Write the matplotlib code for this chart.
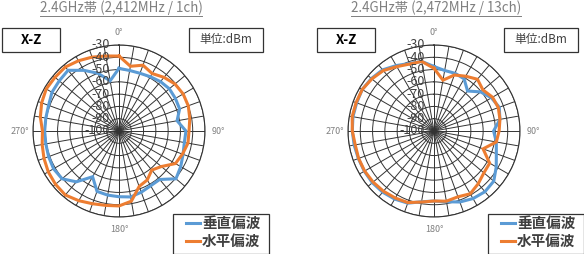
import numpy as np
import matplotlib.pyplot as plt
from matplotlib.patches import Rectangle
from matplotlib.lines import Line2D
from matplotlib.transforms import offset_copy

plt.rcParams['font.family'] = ['Noto Sans CJK JP', 'DejaVu Sans']

W, H = 584, 254

# angle of each measurement (deg, clockwise from top)
angles = [0, 10, 20, 30, 40, 50, 60, 70, 80, 90, 100, 110,
          120, 130, 140, 150, 160, 170, 180, 190, 200, 210, 220, 230,
          240, 250, 260, 270, 280, 290, 300, 310, 320, 330, 340, 350]

# 1ch (2,412MHz)
ch1_v = [-49, -50, -50, -49, -47.5, -46.5, -47, -47.5, -52, -45.5,
         -46, -44.5, -42, -39.5, -48.5, -48.5, -47, -45.5, -46.5, -47,
         -47.7, -57, -46, -39.5, -38.5, -39, -39.5, -39.5, -39.5, -39,
         -37, -36.5, -35.5, -43, -50, -58.5]
ch1_h = [-39, -46.5, -43, -46, -43, -40.5, -39.7, -40, -41.5, -43,
         -43, -45, -47, -55, -58.5, -54, -52, -42, -39, -38.5,
         -37, -34.5, -32, -32.5, -33.5, -35, -36.5, -37.7, -35, -33,
         -31.6, -32, -32, -34, -36, -38]

# 13ch (2,472MHz)
ch13_v = [-47.5, -50, -50, -51, -57.5, -50.5, -46, -43.5, -45.5, -51.5,
          -48.5, -46, -41.5, -36.5, -35.5, -36.5, -38.5, -41.5, -43, -41.5,
          -37.5, -36, -35, -34.5, -34.5, -34.5, -34, -33.5, -33, -33,
          -32.5, -33.5, -35, -38.5, -41.5, -42.5]
ch13_h = [-49, -58, -51.5, -48.5, -45, -48, -45, -44.3, -45.5, -47,
          -48.5, -57.5, -47.7, -47, -44, -41, -43, -42, -43, -41.3,
          -38, -37, -36, -35.3, -34.8, -34.7, -34.9, -33.5, -32.4, -32.5,
          -32.5, -34, -35.8, -39.5, -42, -42.5]

r_ticks = [-30, -40, -50, -60, -70, -80, -90, -100]
dir_labels = ['0°', '90°', '180°', '270°']
titles = ['2.4GHz帯 (2,412MHz / 1ch)', '2.4GHz帯 (2,472MHz / 13ch)']
series_names = ['垂直偏波', '水平偏波']
colors = ['#5B9BD5', '#ED7D31']
grid_c = '#333333'
text_c = '#404040'


def fx(x):
    return x / W


def fy(y):
    return 1 - y / H


def box(fig, x, y, w, h):
    fig.add_artist(Rectangle((fx(x), fy(y + h)), w / W, h / H, transform=fig.transFigure,
                             fill=False, edgecolor=grid_c, lw=0.9))


def panel(fig, cx, cy, R, title, v_vals, h_vals):
    ax = fig.add_axes([fx(cx - R), fy(cy + R), 2 * R / W, 2 * R / H], projection='polar')
    ax.set_theta_zero_location('N')
    ax.set_theta_direction(-1)
    ax.set_ylim(-100, -30)
    ax.set_xticks(np.radians(angles))
    ax.set_yticks(r_ticks[:-1])
    ax.set_xticklabels([])
    ax.set_yticklabels([])
    ax.grid(True, color=grid_c, lw=0.7)
    ax.spines['polar'].set_color(grid_c)
    ax.spines['polar'].set_linewidth(0.8)

    th = np.radians(angles + angles[:1])
    for vals, c in zip([v_vals, h_vals], colors):
        ax.plot(th, vals + vals[:1], color=c, lw=2.2, solid_joinstyle='miter', zorder=3)

    trans = offset_copy(ax.transData, fig=fig, x=-9, y=0, units='dots')
    for v in r_ticks:
        ax.text(0, v, str(v), transform=trans, ha='right', va='center',
                fontsize=9, color=text_c, zorder=4)
    for a, lab in zip([0, 90, 180, 270], dir_labels):
        ax.text(np.radians(a), -19.5, lab, ha='center', va='center',
                fontsize=6.5, color='#808080', clip_on=False)

    t = fig.text(fx(cx + 2), fy(8), title, ha='center', va='center',
                 fontsize=9.6, color='#7f7f7f')
    fig.canvas.draw()
    bb = t.get_window_extent(fig.canvas.get_renderer())
    fig.add_artist(Line2D([bb.x0 / W, bb.x1 / W], [(bb.y0 - 1) / H] * 2,
                          transform=fig.transFigure, color='#7f7f7f', lw=0.7))

    # "X-Z" and unit boxes
    box(fig, cx - 117, 28, 58, 23.5)
    fig.text(fx(cx - 88), fy(40), 'X-Z', ha='center', va='center',
             fontsize=9.5, fontweight='bold', color='black')
    box(fig, cx + 70, 28, 74, 23.5)
    fig.text(fx(cx + 107), fy(40), '単位:dBm', ha='center', va='center',
             fontsize=8.5, color=text_c)

    # legend
    box(fig, cx + 54, 213.5, 96, 40)
    for i, (name, c) in enumerate(zip(series_names, colors)):
        yy = 223 + i * 18
        fig.add_artist(Line2D([fx(cx + 67), fx(cx + 81)], [fy(yy)] * 2,
                              transform=fig.transFigure, color=c, lw=2.2))
        fig.text(fx(cx + 83), fy(yy), name, ha='left', va='center',
                 fontsize=10.5, fontweight='bold', color=text_c)
    return ax


fig = plt.figure(figsize=(W / 100, H / 100), dpi=100)
panel(fig, 119, 131, 86, titles[0], ch1_v, ch1_h)
panel(fig, 434, 131, 86, titles[1], ch13_v, ch13_h)
fig.savefig('out.png', dpi=100)
